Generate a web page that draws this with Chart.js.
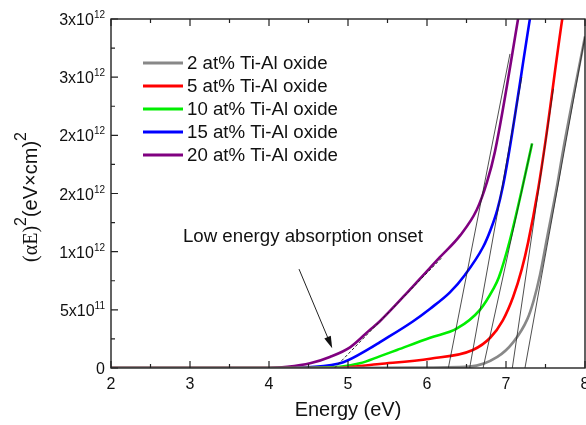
<!DOCTYPE html>
<html>
<head>
<meta charset="utf-8">
<script src="https://cdn.jsdelivr.net/npm/chart.js@4.4.1/dist/chart.umd.min.js"></script>
<style>
  html, body { margin: 0; padding: 0; background: #fff; }
  #tauc { display: block; }
</style>
</head>
<body>
<canvas id="tauc" width="586" height="425"></canvas>
<script>
// values in units of 1e12 (eV·cm)^-2 ...
const seriesLabels = ["2 at% Ti-Al oxide", "5 at% Ti-Al oxide", "10 at% Ti-Al oxide", "15 at% Ti-Al oxide", "20 at% Ti-Al oxide"];
const seriesColors = ["#888888", "#ff0000", "#00ee00", "#0000ff", "#800080"];

const energy2 = [2, 4.5, 5.8, 6.54, 6.89, 7.09, 7.27, 7.35, 7.43, 7.52, 7.65, 7.72, 8.0];
const value2  = [0, 0, 0.003, 0.012, 0.095, 0.22, 0.42, 0.58, 0.80, 1.12, 1.58, 1.86, 2.85];

const energy5 = [2, 4.8, 5.4, 6.04, 6.58, 6.80, 6.96, 7.09, 7.20, 7.28, 7.41, 7.50, 7.71, 7.76];
const value5  = [0, 0, 0.035, 0.08, 0.155, 0.26, 0.41, 0.61, 0.85, 1.08, 1.55, 1.95, 2.99, 3.2];

const energy10 = [2, 4.4, 4.9, 5.15, 5.40, 5.62, 6.04, 6.38, 6.67, 6.84, 6.91, 7.05, 7.20, 7.33];
const value10  = [0, 0, 0.01, 0.04, 0.10, 0.155, 0.26, 0.34, 0.50, 0.68, 0.78, 1.10, 1.53, 1.93];

const energy15 = [2, 4.2, 4.5, 4.94, 5.28, 5.40, 5.82, 6.04, 6.29, 6.48, 6.71, 6.80, 6.89, 6.96, 7.03, 7.30, 7.35];
const value15  = [0, 0, 0.006, 0.05, 0.17, 0.22, 0.40, 0.51, 0.65, 0.80, 1.04, 1.18, 1.36, 1.56, 1.82, 2.99, 3.2];

const energy20 = [2, 4.0, 4.23, 4.52, 4.77, 5.03, 5.28, 5.40, 5.82, 6.16, 6.42, 6.63, 6.76, 6.86, 7.15, 7.2];
const value20  = [0, 0, 0.01, 0.04, 0.095, 0.18, 0.33, 0.40, 0.70, 0.95, 1.14, 1.36, 1.60, 1.86, 2.99, 3.2];

// linear fits (start / end points) for the band gap extrapolation
const tangentStartE = [6.27, 6.54, 6.71, 7.08, 7.24];
const tangentStartV = [0, 0, 0, 0, 0];
const tangentEndE   = [7.05, 7.2, 7.33, 7.6, 8.0];
const tangentEndV   = [2.7, 2.5, 1.93, 2.4, 2.85];

// low energy onset fit (dashed)
const onsetE = [4.83, 6.19];
const onsetV = [0, 0.95];

const xTicks = [2, 3, 4, 5, 6, 7, 8];
const yTicks = [0, 0.5, 1, 1.5, 2, 2.5, 3];
const yTickBase = ["0", "5x10", "1x10", "2x10", "2x10", "3x10", "3x10"];
const yTickExp  = ["", "11", "12", "12", "12", "12", "12"];

const annotationText = "Low energy absorption onset";
const annotationPos = { x: 2.91, y: 1.13 };
const arrowFrom = { x: 4.38, y: 0.85 };
const arrowTo = { x: 4.80, y: 0.17 };

const SANS = "Arial, 'Liberation Sans', sans-serif";
const SERIF = "'Times New Roman', 'Liberation Serif', serif";

function toPoints(es, vs) {
  return es.map((e, i) => ({ x: e, y: vs[i] }));
}

const curveSets = [
  [energy2, value2], [energy5, value5], [energy10, value10], [energy15, value15], [energy20, value20]
];

const datasets = curveSets.map(([es, vs], i) => ({
  label: seriesLabels[i],
  data: toPoints(es, vs),
  borderColor: seriesColors[i],
  borderWidth: 2.6,
  pointRadius: 0,
  cubicInterpolationMode: "monotone",
  order: 2,
}));

tangentStartE.forEach((e, i) => {
  datasets.push({
    label: "fit" + i,
    data: [{ x: e, y: tangentStartV[i] }, { x: tangentEndE[i], y: tangentEndV[i] }],
    borderColor: "#222",
    borderWidth: 0.8,
    pointRadius: 0,
    order: 1,
  });
});

datasets.push({
  label: "onset",
  data: toPoints(onsetE, onsetV),
  borderColor: "#222",
  borderWidth: 1,
  borderDash: [3, 2],
  pointRadius: 0,
  order: 1,
});

// frame, inward ticks, labels, legend and annotation
const decor = {
  id: "decor",
  afterDatasetsDraw(chart) {
    const { ctx, chartArea: a, scales: { x, y } } = chart;
    ctx.save();
    ctx.strokeStyle = "#222";
    ctx.lineWidth = 1.4;
    ctx.strokeRect(a.left, a.top, a.right - a.left, a.bottom - a.top);

    ctx.lineWidth = 1.2;
    ctx.beginPath();
    xTicks.forEach((t, i) => {
      const px = x.getPixelForValue(t);
      ctx.moveTo(px, a.bottom); ctx.lineTo(px, a.bottom - 7);
      ctx.moveTo(px, a.top); ctx.lineTo(px, a.top + 7);
      if (i < xTicks.length - 1) {
        const m = x.getPixelForValue((t + xTicks[i + 1]) / 2);
        ctx.moveTo(m, a.bottom); ctx.lineTo(m, a.bottom - 4);
        ctx.moveTo(m, a.top); ctx.lineTo(m, a.top + 4);
      }
    });
    yTicks.forEach((t, i) => {
      const py = y.getPixelForValue(t);
      ctx.moveTo(a.left, py); ctx.lineTo(a.left + 7, py);
      if (i < yTicks.length - 1) {
        const m = y.getPixelForValue((t + yTicks[i + 1]) / 2);
        ctx.moveTo(a.left, m); ctx.lineTo(a.left + 4, m);
      }
    });
    ctx.stroke();

    // x tick labels
    ctx.fillStyle = "#111";
    ctx.font = "16px " + SANS;
    ctx.textAlign = "center";
    ctx.textBaseline = "top";
    xTicks.forEach(t => ctx.fillText(String(t), x.getPixelForValue(t), a.bottom + 9));

    // y tick labels with superscript exponents
    ctx.textBaseline = "alphabetic";
    ctx.textAlign = "left";
    yTicks.forEach((t, i) => {
      const py = y.getPixelForValue(t) + 6;
      ctx.font = "10px " + SANS;
      const ew = yTickExp[i] ? ctx.measureText(yTickExp[i]).width : 0;
      ctx.font = "16px " + SANS;
      const bw = ctx.measureText(yTickBase[i]).width;
      const right = a.left - 6;
      ctx.fillText(yTickBase[i], right - ew - bw, py);
      if (yTickExp[i]) {
        ctx.font = "10px " + SANS;
        ctx.fillText(yTickExp[i], right - ew, py - 7);
      }
    });

    // x axis title
    ctx.font = "20px " + SANS;
    ctx.textAlign = "center";
    ctx.textBaseline = "alphabetic";
    ctx.fillText("Energy (eV)", (a.left + a.right) / 2, 416);

    // y axis title, rotated
    const parts = [
      { t: "(\u03b1E)", f: "20px " + SERIF, dy: 0 },
      { t: "2", f: "16px " + SANS, dy: -11 },
      { t: "(eV\u00d7cm)", f: "20px " + SANS, dy: 0 },
      { t: "2", f: "16px " + SANS, dy: -11 },
    ];
    let total = 0;
    parts.forEach(p => { ctx.font = p.f; p.w = ctx.measureText(p.t).width; total += p.w; });
    ctx.save();
    ctx.translate(37, 197);
    ctx.rotate(-Math.PI / 2);
    ctx.textAlign = "left";
    let cx = -total / 2;
    parts.forEach(p => { ctx.font = p.f; ctx.fillText(p.t, cx, p.dy); cx += p.w; });
    ctx.restore();

    // legend
    const rowY = [63, 86, 109, 132, 155];
    ctx.font = "18.7px " + SANS;
    ctx.textAlign = "left";
    ctx.textBaseline = "middle";
    seriesLabels.forEach((lab, i) => {
      ctx.strokeStyle = seriesColors[i];
      ctx.lineWidth = 3;
      ctx.beginPath();
      ctx.moveTo(143, rowY[i]); ctx.lineTo(183, rowY[i]);
      ctx.stroke();
      ctx.fillStyle = "#111";
      ctx.fillText(lab, 187, rowY[i] + 1);
    });

    // annotation text and arrow
    ctx.textBaseline = "middle";
    ctx.fillText(annotationText, x.getPixelForValue(annotationPos.x), y.getPixelForValue(annotationPos.y));
    const x0 = x.getPixelForValue(arrowFrom.x), y0 = y.getPixelForValue(arrowFrom.y);
    const x1 = x.getPixelForValue(arrowTo.x), y1 = y.getPixelForValue(arrowTo.y);
    const ang = Math.atan2(y1 - y0, x1 - x0);
    ctx.strokeStyle = "#222";
    ctx.lineWidth = 1;
    ctx.beginPath();
    ctx.moveTo(x0, y0); ctx.lineTo(x1 - 8 * Math.cos(ang), y1 - 8 * Math.sin(ang));
    ctx.stroke();
    ctx.fillStyle = "#111";
    ctx.beginPath();
    ctx.moveTo(x1, y1);
    ctx.lineTo(x1 - 12 * Math.cos(ang) + 3.5 * Math.sin(ang), y1 - 12 * Math.sin(ang) - 3.5 * Math.cos(ang));
    ctx.lineTo(x1 - 12 * Math.cos(ang) - 3.5 * Math.sin(ang), y1 - 12 * Math.sin(ang) + 3.5 * Math.cos(ang));
    ctx.closePath();
    ctx.fill();
    ctx.restore();
  },
};

new Chart(document.getElementById("tauc"), {
  type: "line",
  data: { datasets },
  options: {
    responsive: false,
    animation: false,
    layout: { padding: { top: 19, right: 1, left: 0, bottom: 0 } },
    plugins: { legend: { display: false }, tooltip: { enabled: false } },
    scales: {
      x: {
        type: "linear", min: 2, max: 8,
        grid: { display: false }, border: { display: false },
        ticks: { display: false },
        afterFit: s => { s.height = 57; },
      },
      y: {
        min: 0, max: 3,
        grid: { display: false }, border: { display: false },
        ticks: { display: false },
        afterFit: s => { s.width = 111; },
      },
    },
  },
  plugins: [decor],
});
</script>
</body>
</html>
